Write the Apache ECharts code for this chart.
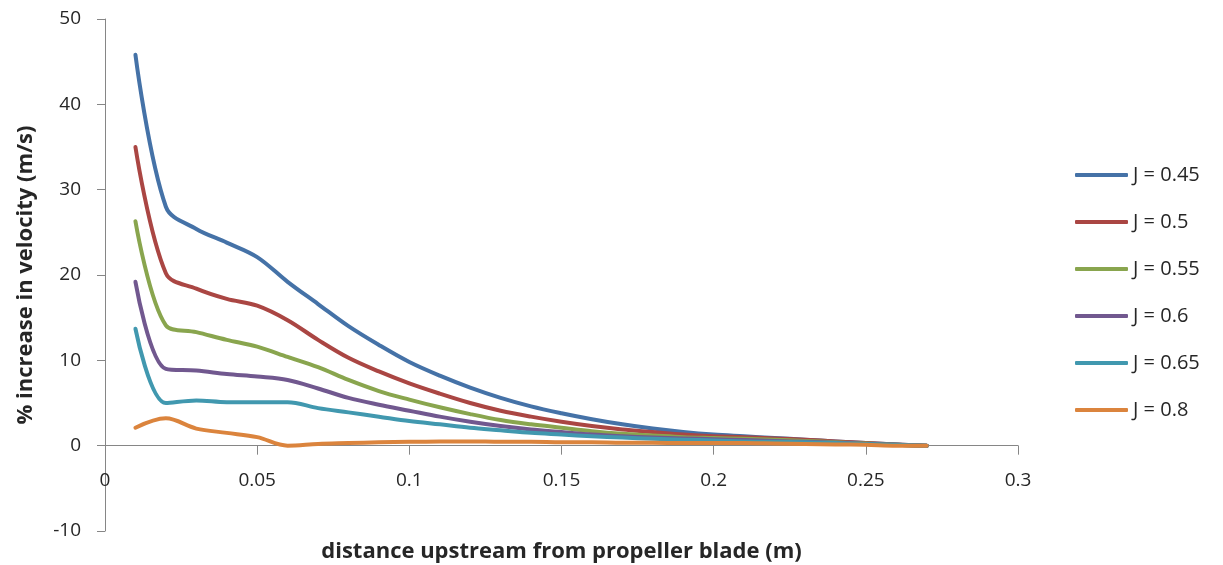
<!DOCTYPE html>
<html>
<head>
<meta charset="utf-8">
<script src="https://cdn.jsdelivr.net/npm/echarts@6/dist/echarts.min.js"></script>
<style>
  html, body { margin: 0; padding: 0; background: #fff; }
  #chart { width: 1223px; height: 565px; }
</style>
</head>
<body>
<div id="chart"></div>
<script>
// distance upstream from the blade (m)
const distance = [0.01, 0.02, 0.03, 0.04, 0.05, 0.06, 0.07, 0.08, 0.09, 0.10,
                  0.11, 0.12, 0.13, 0.14, 0.15, 0.16, 0.17, 0.18, 0.19, 0.20,
                  0.21, 0.22, 0.23, 0.24, 0.25, 0.26, 0.27];

// % increase in velocity for each advance ratio J
const j045 = [45.8, 28.0, 25.4, 23.8, 22.1, 19.2, 16.6, 14.0, 11.8, 9.8,
              8.2, 6.8, 5.6, 4.6, 3.8, 3.1, 2.5, 2.0, 1.6, 1.3,
              1.1, 0.9, 0.7, 0.5, 0.3, 0.15, 0.0];
const j050 = [35.0, 20.2, 18.4, 17.2, 16.4, 14.7, 12.4, 10.3, 8.7, 7.3,
              6.1, 5.0, 4.1, 3.4, 2.8, 2.3, 1.9, 1.6, 1.3, 1.1,
              1.0, 0.85, 0.7, 0.5, 0.3, 0.15, 0.0];
const j055 = [26.3, 14.1, 13.3, 12.4, 11.6, 10.4, 9.2, 7.7, 6.4, 5.4,
              4.5, 3.7, 3.0, 2.5, 2.1, 1.7, 1.4, 1.2, 1.0, 0.9,
              0.8, 0.7, 0.55, 0.4, 0.25, 0.1, 0.0];
const j060 = [19.2, 9.0, 8.8, 8.4, 8.1, 7.7, 6.7, 5.6, 4.8, 4.1,
              3.4, 2.8, 2.3, 1.9, 1.6, 1.3, 1.1, 0.95, 0.85, 0.75,
              0.65, 0.55, 0.45, 0.35, 0.2, 0.1, 0.0];
const j065 = [13.7, 5.0, 5.3, 5.1, 5.1, 5.1, 4.4, 3.9, 3.4, 2.9,
              2.5, 2.1, 1.8, 1.5, 1.3, 1.1, 0.95, 0.8, 0.7, 0.6,
              0.5, 0.45, 0.4, 0.3, 0.2, 0.1, 0.0];
const j080 = [2.1, 3.2, 2.0, 1.5, 1.0, 0.0, 0.2, 0.3, 0.4, 0.45,
              0.5, 0.5, 0.45, 0.45, 0.4, 0.4, 0.35, 0.35, 0.3, 0.3,
              0.3, 0.25, 0.2, 0.15, 0.1, 0.0, 0.0];

const seriesNames = ['J = 0.45', 'J = 0.5', 'J = 0.55', 'J = 0.6', 'J = 0.65', 'J = 0.8'];
const seriesValues = [j045, j050, j055, j060, j065, j080];
const colors = ['#4572A7', '#AA4643', '#89A54E', '#71588F', '#4198AF', '#DB843D'];

const FONT = 'Open Sans';
const TEXT = '#262626';
const AXIS = '#868686';

const chart = echarts.init(document.getElementById('chart'), null, { renderer: 'canvas' });

chart.setOption({
  animation: false,
  color: colors,
  grid: {
    left: 105, right: 205, top: 19, bottom: 34,
    containLabel: false,
    outerBoundsMode: 'none'
  },
  legend: {
    orient: 'vertical',
    left: 1075,
    top: 165,
    padding: 0,
    itemWidth: 53,
    itemHeight: 4,
    itemGap: 27,
    icon: 'roundRect',
    textStyle: { fontFamily: FONT, fontSize: 20, color: TEXT },
    data: seriesNames
  },
  xAxis: {
    type: 'value',
    min: 0,
    max: 0.3,
    interval: 0.05,
    name: 'distance upstream from propeller blade (m)',
    nameLocation: 'middle',
    nameGap: 10,
    nameTextStyle: { fontFamily: FONT, fontSize: 22, fontWeight: 'bold', color: TEXT },
    axisLine: { onZero: true, lineStyle: { color: AXIS, width: 1 } },
    axisTick: { show: true, length: 9, lineStyle: { color: AXIS } },
    // labels sit in the band between the zero line and the -10 gridline
    axisLabel: { fontFamily: FONT, fontSize: 19, color: TEXT, margin: -60 },
    splitLine: { show: false }
  },
  yAxis: {
    type: 'value',
    min: -10,
    max: 50,
    interval: 10,
    name: '% increase in velocity (m/s)',
    nameLocation: 'middle',
    nameGap: 68,
    nameTextStyle: { fontFamily: FONT, fontSize: 22, fontWeight: 'bold', color: TEXT },
    axisLine: { show: true, onZero: false, lineStyle: { color: AXIS, width: 1 } },
    axisTick: { show: true, length: 8, lineStyle: { color: AXIS } },
    axisLabel: { fontFamily: FONT, fontSize: 19, color: TEXT, margin: 24 },
    splitLine: { show: false }
  },
  series: seriesNames.map((name, i) => ({
    name: name,
    type: 'line',
    smooth: 0.35,
    showSymbol: false,
    symbol: 'none',
    lineStyle: { width: 4, color: colors[i], cap: 'round', join: 'round' },
    itemStyle: { color: colors[i] },
    data: distance.map((d, k) => [d, seriesValues[i][k]])
  }))
});
</script>
</body>
</html>
